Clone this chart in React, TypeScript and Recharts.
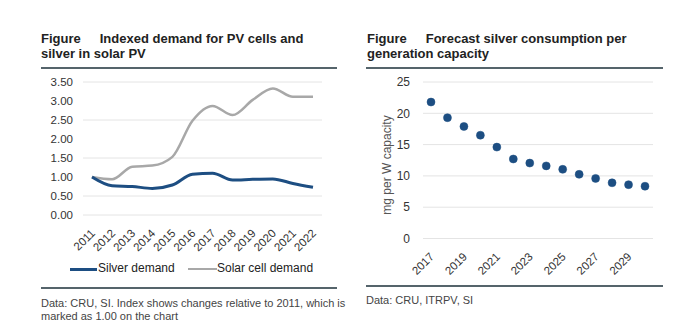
import { LineChart, Line, XAxis, YAxis, CartesianGrid } from "recharts"

const indexYears = ["2011", "2012", "2013", "2014", "2015", "2016", "2017", "2018", "2019", "2020", "2021", "2022"]
const silverDemand = [1.0, 0.77, 0.75, 0.7, 0.79, 1.07, 1.1, 0.92, 0.94, 0.95, 0.83, 0.73]
const solarCellDemand = [1.0, 0.94, 1.27, 1.3, 1.53, 2.48, 2.87, 2.63, 3.03, 3.33, 3.11, 3.11]
const indexTicks = [0, 0.5, 1, 1.5, 2, 2.5, 3, 3.5]

const forecastYears = ["2017", "2018", "2019", "2020", "2021", "2022", "2023", "2024", "2025", "2026", "2027", "2028", "2029", "2030"]
const silverPerWatt = [21.8, 19.3, 17.9, 16.5, 14.6, 12.7, 12.05, 11.6, 11.05, 10.25, 9.6, 8.9, 8.6, 8.35]
const forecastTicks = [0, 5, 10, 15, 20, 25]

const indexData = indexYears.map((year, i) => ({
  year,
  silver: silverDemand[i],
  solar: solarCellDemand[i],
}))

const forecastData = forecastYears.map((year, i) => ({
  year,
  value: silverPerWatt[i],
}))

const NAVY = "#1d4e82"
const GREY = "#a8a8a8"
const GRID = "#e4e4e4"
const RULE = "#55646b"

function RotatedTick(props: any) {
  const { x, y, payload } = props
  return (
    <g transform={`translate(${x + 1},${y})`}>
      <text x={0} y={0} dy="0.35em" textAnchor="end" transform="rotate(-45)" fontSize={11.5} fill="#333">
        {payload.value}
      </text>
    </g>
  )
}

const titleStyle: React.CSSProperties = {
  position: "absolute",
  top: 31,
  fontSize: 13,
  fontWeight: "bold",
  lineHeight: "15px",
  color: "#222",
  whiteSpace: "nowrap",
  zIndex: 2,
}

const noteStyle: React.CSSProperties = {
  position: "absolute",
  fontSize: 11,
  lineHeight: "13px",
  color: "#444",
  whiteSpace: "nowrap",
  zIndex: 2,
}

const ruleStyle = (left: number, width: number, top: number): React.CSSProperties => ({
  position: "absolute",
  left,
  top,
  width,
  height: 0,
  borderTop: `2px solid ${RULE}`,
  zIndex: 3,
})

export default function App() {
  return (
    <div
      style={{
        position: "absolute",
        left: 0,
        top: 0,
        width: 680,
        height: 330,
        background: "#fff",
        fontFamily: "Arial, 'Liberation Sans', sans-serif",
        overflow: "hidden",
      }}
    >
      <div style={{ position: "absolute", left: 0, top: 0, zIndex: 1 }}>
        <LineChart width={340} height={330} data={indexData} margin={{ top: 82, right: 18, bottom: 85, left: 43 }}>
          <CartesianGrid vertical={false} stroke={GRID} />
          <XAxis
            dataKey="year"
            axisLine={false}
            tickLine={false}
            tickSize={0}
            tickMargin={16}
            height={30}
            interval={0}
            padding={{ left: 9, right: 9 }}
            tick={<RotatedTick />}
          />
          <YAxis
            width={40}
            domain={[0, 3.5]}
            ticks={indexTicks}
            axisLine={false}
            tickLine={false}
            tickSize={0}
            tickMargin={10}
            tickFormatter={(v: number) => v.toFixed(2)}
            tick={{ fontSize: 11.5, fill: "#333" }}
          />
          <Line type="monotone" dataKey="solar" stroke={GREY} strokeWidth={2.5} dot={false} isAnimationActive={false} />
          <Line type="monotone" dataKey="silver" stroke={NAVY} strokeWidth={3} dot={false} isAnimationActive={false} />
        </LineChart>
      </div>

      <div style={{ position: "absolute", left: 340, top: 0, zIndex: 1 }}>
        <LineChart width={340} height={330} data={forecastData} margin={{ top: 82, right: 27, bottom: 61.5, left: 43 }}>
          <CartesianGrid vertical={false} stroke={GRID} />
          <XAxis
            dataKey="year"
            axisLine={false}
            tickLine={false}
            tickSize={0}
            tickMargin={16}
            height={30}
            interval={1}
            padding={{ left: 8, right: 8 }}
            tick={<RotatedTick />}
          />
          <YAxis
            width={40}
            domain={[0, 25]}
            ticks={forecastTicks}
            axisLine={false}
            tickLine={false}
            tickSize={0}
            tickMargin={13}
            tick={{ fontSize: 12, fill: "#333" }}
          />
          <Line
            type="linear"
            dataKey="value"
            stroke="none"
            dot={{ r: 4, fill: NAVY, stroke: NAVY, strokeWidth: 0.5 }}
            isAnimationActive={false}
          />
        </LineChart>
      </div>

      {/* left panel */}
      <div style={{ ...titleStyle, left: 41 }}>
        <span style={{ marginRight: 19 }}>Figure</span>Indexed demand for PV cells and
        <br />
        silver in solar PV
      </div>
      <div style={ruleStyle(41, 296, 67)} />

      <div style={{ position: "absolute", left: 70, top: 267.5, width: 27, height: 3, background: NAVY, zIndex: 2 }} />
      <div style={{ position: "absolute", left: 98, top: 261, fontSize: 12, color: "#222", zIndex: 2 }}>Silver demand</div>
      <div style={{ position: "absolute", left: 188, top: 267.5, width: 29, height: 2.5, background: GREY, zIndex: 2 }} />
      <div style={{ position: "absolute", left: 217, top: 261, fontSize: 12, color: "#222", zIndex: 2 }}>Solar cell demand</div>

      <div style={ruleStyle(41, 296, 287)} />
      <div style={{ ...noteStyle, left: 41, top: 297 }}>
        Data: CRU, SI. Index shows changes relative to 2011, which is
        <br />
        marked as 1.00 on the chart
      </div>

      {/* right panel */}
      <div style={{ ...titleStyle, left: 367 }}>
        <span style={{ marginRight: 19 }}>Figure</span>Forecast silver consumption per
        <br />
        generation capacity
      </div>
      <div style={ruleStyle(366, 297, 66.5)} />

      <div
        style={{
          position: "absolute",
          left: 387,
          top: 165,
          transform: "translate(-50%, -50%) rotate(-90deg)",
          fontSize: 12,
          color: "#555",
          whiteSpace: "nowrap",
          zIndex: 2,
        }}
      >
        mg per W capacity
      </div>

      <div style={ruleStyle(366, 297, 285)} />
      <div style={{ ...noteStyle, left: 366, top: 294 }}>Data: CRU, ITRPV, SI</div>
    </div>
  )
}
